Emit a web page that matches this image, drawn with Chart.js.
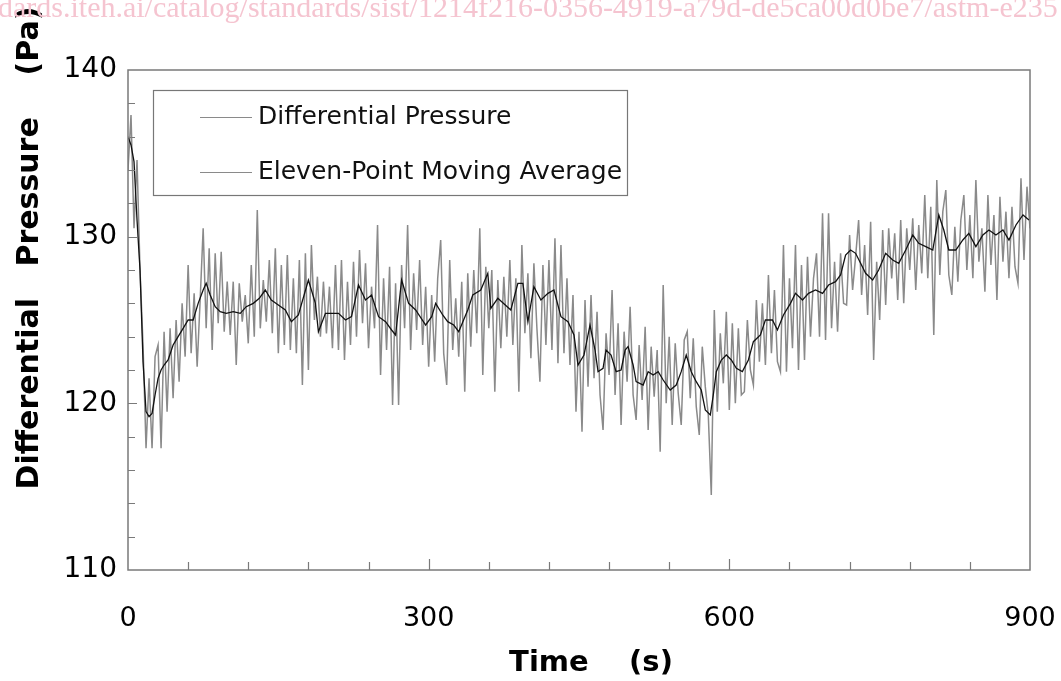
<!DOCTYPE html>
<html>
<head>
<meta charset="utf-8">
<title>Differential Pressure</title>
<script src="https://cdn.jsdelivr.net/npm/chart.js@4.4.1/dist/chart.umd.min.js"></script>
<style>
  html, body { margin: 0; padding: 0; background: #fff; }
  #wrap { width: 1061px; height: 681px; }
</style>
</head>
<body>
<div id="wrap"><canvas id="chart" width="1061" height="681"></canvas></div>
<script>
// raw differential pressure, one reading every 3 s from 0 to 900 s (Pa)
const RAW_STEP = 3;
const rawPressure = [
  134.0, 137.3, 130.5, 134.6, 128.0, 123.5, 117.3, 121.5, 117.3, 122.8,
  123.5, 117.3, 124.3, 119.5, 124.5, 120.3, 125.0, 121.3, 126.0, 122.8,
  128.3, 123.0, 126.6, 122.2, 126.2, 130.5, 124.5, 129.3, 123.2, 129.0,
  124.8, 129.1, 124.3, 127.3, 124.1, 127.3, 122.3, 127.2, 124.9, 126.5,
  123.6, 128.3, 124.0, 131.6, 124.5, 127.4, 124.9, 128.6, 124.2, 129.3,
  123.0, 128.3, 123.5, 128.9, 123.2, 127.5, 123.0, 128.6, 121.1, 129.0,
  122.0, 129.5, 125.0, 127.6, 124.0, 127.3, 124.2, 127.0, 123.3, 128.3,
  123.2, 128.6, 122.6, 127.3, 123.5, 128.5, 124.0, 129.2, 124.8, 128.4,
  123.3, 127.0, 124.5, 130.7, 121.7, 127.5, 123.2, 128.2, 119.9, 127.2,
  119.9, 128.3, 124.5, 130.7, 123.2, 127.8, 124.4, 128.6, 123.5, 127.0,
  122.2, 126.5, 122.5, 127.5, 129.8, 123.0, 121.1, 128.6, 123.2, 126.3,
  122.8, 127.3, 120.7, 127.8, 123.4, 128.0, 124.2, 130.5, 121.7, 128.2,
  124.5, 128.0, 120.7, 127.4, 123.3, 127.6, 124.0, 128.6, 123.5, 127.5,
  120.7, 129.5, 124.2, 127.8, 122.7, 128.4, 124.5, 121.3, 128.3, 123.5,
  128.6, 123.2, 129.9, 122.4, 129.5, 123.0, 127.5, 122.3, 126.5, 119.5,
  124.3, 118.3, 126.2, 121.0, 126.5, 121.5, 125.5, 120.5, 118.4, 124.2,
  121.7, 126.8, 120.5, 124.8, 118.7, 124.3, 121.3, 125.8, 120.5, 119.0,
  123.5, 120.2, 124.6, 118.4, 123.4, 120.4, 123.2, 117.1, 127.1, 120.0,
  124.0, 118.7, 123.6, 120.6, 118.7, 123.8, 124.3, 120.3, 123.9, 119.8,
  118.1, 123.4, 121.0, 119.3, 114.5, 125.6, 119.5, 124.2, 121.2, 125.5,
  119.6, 124.8, 120.0, 124.5, 120.5, 120.7, 125.0, 122.0, 121.1, 126.2,
  122.5, 126.0, 122.3, 127.7, 123.0, 126.8, 122.5, 121.9, 129.5, 121.9,
  127.5, 123.3, 129.5, 122.0, 128.3, 122.6, 128.8, 124.0, 127.5, 129.0,
  124.0, 131.4, 123.8, 131.4, 124.5, 128.5, 124.3, 129.0, 126.0, 125.9,
  130.1, 126.8, 128.8, 131.0, 126.5, 129.5, 125.3, 130.9, 122.6, 128.5,
  125.0, 130.4, 125.9, 130.5, 127.5, 130.2, 126.2, 131.0, 126.0, 130.5,
  128.0, 131.1, 126.8, 130.7, 127.8, 132.5, 127.5, 131.8, 124.1, 133.4,
  127.7, 131.5, 132.8, 127.7, 126.5, 130.6, 127.3, 131.0, 132.5, 128.0,
  131.3, 127.5, 133.4, 128.5, 130.5, 126.7, 132.5, 128.3, 131.3, 126.2,
  132.4, 128.5, 131.5, 127.5, 131.8, 128.2, 127.2, 133.5, 128.6, 133.0,
  130.5
];

// eleven-point moving average, read at the times below (s, Pa)
const avgTimes = [
  0, 3, 6, 9, 12, 15, 18, 21, 24, 27, 30, 33, 36, 40, 45, 50, 55, 60, 65, 70,
  75, 78, 82, 87, 92, 98, 105, 112, 118, 125, 131, 137, 143, 150, 157, 163, 170, 180, 187, 190,
  197, 210, 217, 223, 230, 237, 243, 250, 257, 263, 267, 273, 280, 287, 297, 303, 307, 314, 319, 325,
  330, 339, 344, 352, 359, 362, 369, 382, 389, 394, 399, 405, 412, 419, 425, 432, 439, 445, 449, 455,
  461, 466, 469, 474, 477, 482, 487, 492, 496, 499, 504, 507, 514, 519, 524, 529, 534, 541, 547, 552,
  557, 562, 567, 572, 576, 581, 584, 587, 592, 597, 602, 607, 613, 619, 624, 631, 636, 643, 648, 654,
  661, 666, 673, 679, 686, 693, 699, 706, 711, 716, 721, 726, 731, 736, 743, 749, 756, 763, 769, 776,
  783, 789, 796, 803, 809, 814, 819, 826, 833, 839, 846, 853, 859, 866, 873, 879, 886, 893, 899
];
const avgPressure = [
  136.0, 135.5, 134.5, 131.0, 128.0, 122.5, 119.5, 119.2, 119.4, 120.5, 121.5, 122.0, 122.3, 122.6, 123.5, 124.0, 124.5, 125.0, 125.0, 126.0,
  126.8, 127.2, 126.5, 125.8, 125.5, 125.4, 125.5, 125.4, 125.8, 126.0, 126.3, 126.8, 126.2, 125.9, 125.6, 124.9, 125.3, 127.4, 126.0, 124.3,
  125.4, 125.4, 125.0, 125.2, 127.1, 126.2, 126.5, 125.2, 124.9, 124.4, 124.1, 127.4, 126.0, 125.6, 124.7, 125.2, 126.0, 125.3, 124.9, 124.7,
  124.3, 125.6, 126.5, 126.8, 127.8, 125.7, 126.3, 125.6, 127.2, 127.2, 124.9, 127.0, 126.2, 126.6, 126.8, 125.2, 124.9, 124.1, 122.3, 122.9,
  124.7, 123.2, 121.9, 122.1, 123.2, 122.9, 121.9, 122.0, 123.2, 123.4, 122.3, 121.3, 121.1, 121.9, 121.7, 121.9, 121.4, 120.8, 121.1, 121.9,
  122.9, 121.9, 121.3, 120.8, 119.6, 119.3, 120.5, 121.9, 122.6, 122.9, 122.6, 122.1, 121.9, 122.6, 123.7, 124.1, 125.0, 125.0, 124.4, 125.3,
  126.0, 126.6, 126.2, 126.6, 126.8, 126.6, 127.1, 127.3, 127.7, 128.9, 129.2, 129.0, 128.4, 127.8, 127.4, 128.0, 129.0, 128.6, 128.4, 129.2,
  130.1, 129.6, 129.4, 129.2, 131.3, 130.4, 129.2, 129.2, 129.8, 130.2, 129.4, 130.1, 130.4, 130.1, 130.4, 129.8, 130.7, 131.3, 131.0
];

const seriesNames = ['Differential Pressure', 'Eleven-Point Moving Average'];
const xTickValues = [0, 300, 600, 900];
const yTickValues = [110, 120, 130, 140];
const xTitle = 'Time    (s)';
const yTitle = 'Differential   Pressure    (Pa)';
const watermark = 'dards.iteh.ai/catalog/standards/sist/1214f216-0356-4919-a79d-de5ca00d0be7/astm-e235';

const rawPoints = rawPressure.map((v, i) => ({ x: i * RAW_STEP, y: v }));
const avgPoints = avgTimes.map((t, i) => ({ x: t, y: avgPressure[i] }));

const FONT = "'DejaVu Sans', sans-serif";
const AXIS_COLOR = '#7a7a7a';

// frame, inward minor ticks, titles, legend box and watermark
const decorations = {
  id: 'decorations',
  afterDraw(chart) {
    const ctx = chart.ctx;
    const a = chart.chartArea;
    const xs = chart.scales.x;
    const ys = chart.scales.y;
    ctx.save();

    ctx.strokeStyle = AXIS_COLOR;
    ctx.lineWidth = 1.5;
    ctx.strokeRect(a.left, a.top, a.right - a.left, a.bottom - a.top);

    ctx.lineWidth = 1.2;
    ctx.beginPath();
    for (let v = 60; v < 900; v += 60) {
      const px = Math.round(xs.getPixelForValue(v)) + 0.5;
      const len = v % 300 === 0 ? 11 : 8;
      ctx.moveTo(px, a.bottom);
      ctx.lineTo(px, a.bottom - len);
    }
    for (let v = 112; v < 140; v += 2) {
      const py = Math.round(ys.getPixelForValue(v)) + 0.5;
      const len = v % 10 === 0 ? 9 : 7;
      ctx.moveTo(a.left, py);
      ctx.lineTo(a.left + len, py);
    }
    ctx.stroke();

    // axis titles
    ctx.fillStyle = '#000';
    ctx.textAlign = 'center';
    ctx.textBaseline = 'middle';
    ctx.font = 'bold 29px ' + FONT;
    ctx.fillText(xTitle, 591, 663);
    ctx.font = 'bold 30px ' + FONT;
    ctx.save();
    ctx.translate(30, 248);
    ctx.rotate(-Math.PI / 2);
    ctx.fillText(yTitle, 0, 0);
    ctx.restore();

    // legend
    ctx.strokeStyle = '#777';
    ctx.lineWidth = 1.2;
    ctx.strokeRect(153.5, 90.5, 474, 105);
    ctx.font = '25px ' + FONT;
    ctx.textAlign = 'left';
    ctx.fillStyle = '#111';
    const rows = [117, 172];
    seriesNames.forEach((name, i) => {
      ctx.strokeStyle = '#8a8a8a';
      ctx.beginPath();
      ctx.moveTo(200, rows[i] + 0.5);
      ctx.lineTo(252, rows[i] + 0.5);
      ctx.stroke();
      ctx.fillText(name, 258, rows[i]);
    });

    // faint watermark along the top edge
    ctx.fillStyle = '#f5c4d0';
    ctx.font = "30px 'Liberation Serif', serif";
    ctx.textAlign = 'left';
    ctx.textBaseline = 'alphabetic';
    ctx.fillText(watermark, -2, 17);

    ctx.restore();
  }
};

new Chart(document.getElementById('chart'), {
  type: 'line',
  data: {
    datasets: [
      {
        label: seriesNames[1],
        data: avgPoints,
        borderColor: '#111',
        borderWidth: 1.3,
        pointRadius: 0,
        tension: 0,
        order: 0
      },
      {
        label: seriesNames[0],
        data: rawPoints,
        borderColor: '#8a8a8a',
        borderWidth: 1.5,
        pointRadius: 0,
        tension: 0,
        order: 1
      }
    ]
  },
  options: {
    responsive: false,
    animation: false,
    layout: { padding: { top: 70, right: 31, left: 0, bottom: 0 } },
    plugins: {
      legend: { display: false },
      tooltip: { enabled: false }
    },
    scales: {
      x: {
        type: 'linear',
        min: 0,
        max: 900,
        afterFit: (s) => { s.height = 111; s.paddingLeft = 0; s.paddingRight = 0; },
        afterBuildTicks: (s) => { s.ticks = xTickValues.map(v => ({ value: v })); },
        grid: { display: false, drawTicks: false },
        border: { display: false },
        ticks: { padding: 33, color: '#000', font: { family: FONT, size: 27 }, maxRotation: 0 }
      },
      y: {
        min: 110,
        max: 140,
        afterFit: (s) => { s.width = 128; s.paddingTop = 0; s.paddingBottom = 0; },
        afterBuildTicks: (s) => { s.ticks = yTickValues.map(v => ({ value: v })); },
        grid: { display: false, drawTicks: false },
        border: { display: false },
        ticks: { padding: 11, color: '#000', font: { family: FONT, size: 28 } }
      }
    }
  },
  plugins: [decorations]
});
</script>
</body>
</html>
